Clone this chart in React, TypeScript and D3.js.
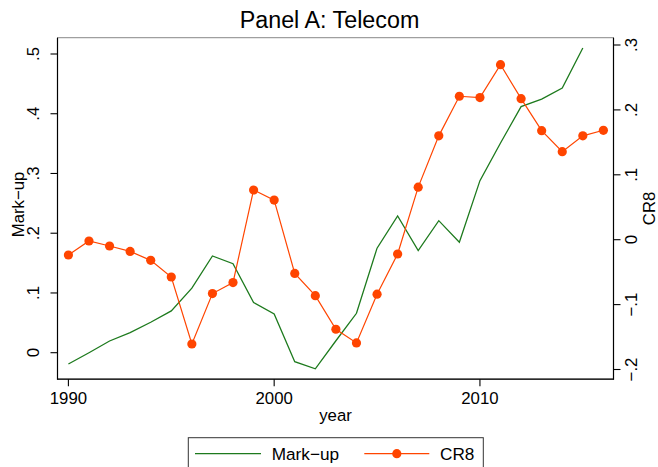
import React from "react";
import * as d3 from "d3";

const years = d3.range(1990, 2017);
const markup: (number | null)[] = [
  -0.019, 0.0, 0.0196, 0.0335, 0.051, 0.07, 0.108, 0.162, 0.149, 0.084, 0.065,
  -0.015, -0.027, 0.02, 0.066, 0.175, 0.229, 0.171, 0.221, 0.185, 0.288, 0.351,
  0.412, 0.4245, 0.443, 0.51, null,
];
const cr8: number[] = [
  -0.0236, -0.002, -0.0097, -0.018, -0.0318, -0.0575, -0.1607, -0.083, -0.066,
  0.0766, 0.061, -0.052, -0.0862, -0.138, -0.159, -0.084, -0.022, 0.081, 0.16,
  0.221, 0.219, 0.2697, 0.2173, 0.168, 0.1356, 0.16, 0.1686,
];
const xTicks = [1990, 2000, 2010];
const leftTicks = [0, 0.1, 0.2, 0.3, 0.4, 0.5];
const leftTickLabels = ["0", ".1", ".2", ".3", ".4", ".5"];
const rightTicks = [-0.2, -0.1, 0, 0.1, 0.2, 0.3];
const rightTickLabels = ["\u2212.2", "\u2212.1", "0", ".1", ".2", ".3"];

const W = 658;
const H = 467;
const plot = { left: 57.5, right: 613.5, top: 37.7, bottom: 379.2 };
const GREEN = "#1d7a1d";
const ORANGE = "#ff4500";
const FONT = "'Liberation Sans', Arial, Helvetica, sans-serif";
const FS = 16.8;

export default function App() {
  const x = d3.scaleLinear().domain([1990, 2016]).range([68.4, 603.4]);
  const yL = d3.scaleLinear().domain([0, 0.5]).range([352.7, 54]);
  const yR = d3.scaleLinear().domain([-0.2, 0.3]).range([369.5, 45]);

  const markLine = d3
    .line<number | null>()
    .defined((d) => d !== null)
    .x((_, i) => x(years[i]))
    .y((d) => yL(d as number));
  const crLine = d3
    .line<number>()
    .x((_, i) => x(years[i]))
    .y((d) => yR(d));

  const cx = (plot.left + plot.right) / 2;
  const cy = (plot.top + plot.bottom) / 2;

  return (
    <svg
      width={W}
      height={H}
      style={{ position: "absolute", left: 0, top: 0, background: "#fff" }}
      fontFamily={FONT}
    >
      <rect x={0} y={0} width={W} height={H} fill="#fff" />
      <text x={329.5} y={28} textAnchor="middle" fontSize={23.3} fill="#000">
        Panel A: Telecom
      </text>
      {/* plot region */}
      <rect
        x={plot.left}
        y={plot.top}
        width={plot.right - plot.left}
        height={plot.bottom - plot.top}
        fill="none"
        stroke="#888"
        strokeWidth={1}
      />
      {/* axes */}
      <line x1={plot.left} x2={plot.left} y1={plot.top} y2={plot.bottom + 0.5} stroke="#000" strokeWidth={1.2} />
      <line x1={plot.right} x2={plot.right} y1={plot.top} y2={plot.bottom + 0.5} stroke="#000" strokeWidth={1.2} />
      <line x1={plot.left} x2={plot.right} y1={plot.bottom} y2={plot.bottom} stroke="#000" strokeWidth={1.2} />

      {leftTicks.map((t, i) => (
        <g key={"l" + t}>
          <line x1={plot.left - 7} x2={plot.left} y1={yL(t)} y2={yL(t)} stroke="#000" strokeWidth={1.1} />
          <text
            transform={`translate(38.5,${yL(t)}) rotate(-90)`}
            textAnchor="middle"
            fontSize={FS}
          >
            {leftTickLabels[i]}
          </text>
        </g>
      ))}
      {rightTicks.map((t, i) => (
        <g key={"r" + t}>
          <line x1={plot.right} x2={plot.right + 7} y1={yR(t)} y2={yR(t)} stroke="#000" strokeWidth={1.1} />
          <text
            transform={`translate(637,${yR(t)}) rotate(-90)`}
            textAnchor="middle"
            fontSize={FS}
          >
            {rightTickLabels[i]}
          </text>
        </g>
      ))}
      {xTicks.map((t) => (
        <g key={"x" + t}>
          <line x1={x(t)} x2={x(t)} y1={plot.bottom} y2={plot.bottom + 7} stroke="#000" strokeWidth={1.1} />
          <text x={x(t)} y={404} textAnchor="middle" fontSize={FS}>
            {t}
          </text>
        </g>
      ))}
      <text x={cx} y={421} textAnchor="middle" fontSize={FS}>
        year
      </text>
      <text transform={`translate(23.5,${cy - 4}) rotate(-90)`} textAnchor="middle" fontSize={FS}>
        Mark{"\u2212"}up
      </text>
      <text transform={`translate(654.5,${cy}) rotate(-90)`} textAnchor="middle" fontSize={FS}>
        CR8
      </text>

      {/* series */}
      <path d={markLine(markup) || ""} fill="none" stroke={GREEN} strokeWidth={1.3} />
      <path d={crLine(cr8) || ""} fill="none" stroke={ORANGE} strokeWidth={1.2} />
      {cr8.map((d, i) => (
        <circle key={i} cx={x(years[i])} cy={yR(d)} r={4.6} fill={ORANGE} />
      ))}

      {/* legend */}
      <rect x={188.3} y={437.7} width={295} height={40} fill="#fff" stroke="#333" strokeWidth={1} />
      <line x1={195} x2={261} y1={453.7} y2={453.7} stroke={GREEN} strokeWidth={1.3} />
      <text x={271.7} y={460} fontSize={17.2}>
        Mark{"\u2212"}up
      </text>
      <line x1={364.3} x2={429.3} y1={453.7} y2={453.7} stroke={ORANGE} strokeWidth={1.2} />
      <circle cx={396.8} cy={453.7} r={4.6} fill={ORANGE} />
      <text x={440} y={460} fontSize={17.2}>
        CR8
      </text>
    </svg>
  );
}
